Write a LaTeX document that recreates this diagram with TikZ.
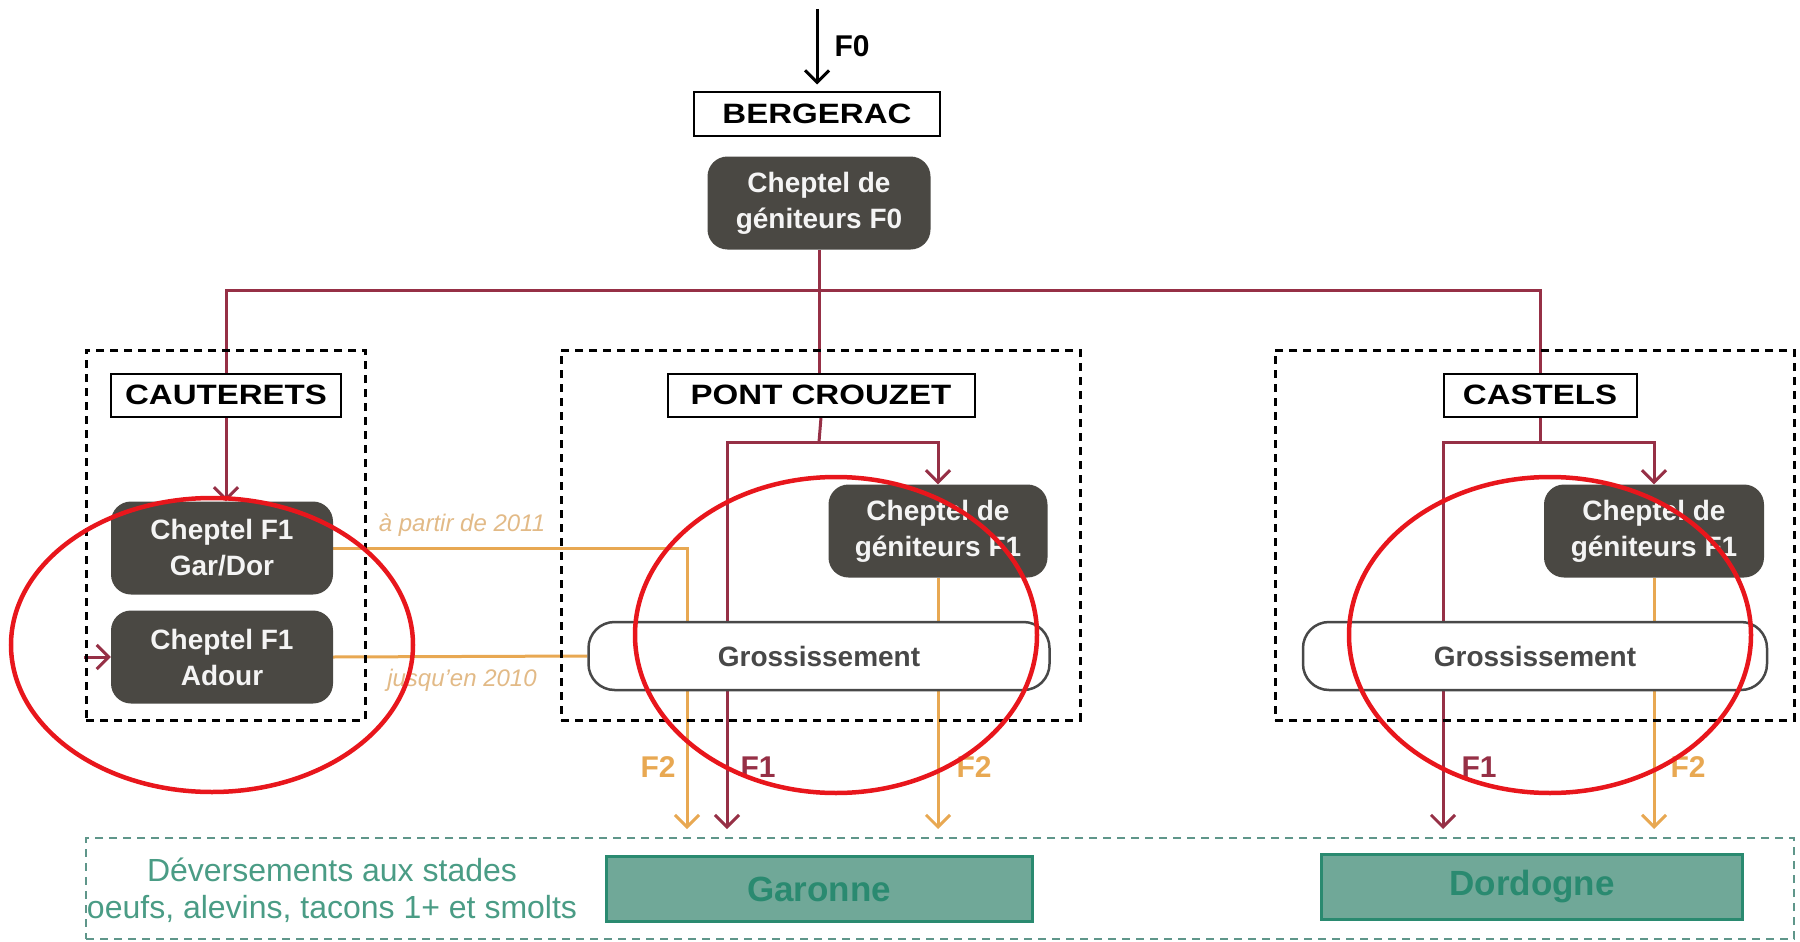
\documentclass[tikz,border=0pt]{standalone}
\usepackage{fontspec}
\setmainfont{Liberation Sans}
\newfontfamily\sitefont[FakeStretch=1.18]{Liberation Sans}
\usepackage{xcolor}
\definecolor{brdark}{RGB}{74,72,67}
\definecolor{brmaroon}{RGB}{150,48,70}
\definecolor{brorange}{RGB}{232,168,82}
\definecolor{brtan}{RGB}{226,186,135}
\definecolor{brteal}{RGB}{42,138,112}
\definecolor{brtealfill}{RGB}{112,168,152}
\definecolor{brtealline}{RGB}{95,150,138}
\definecolor{brgray}{RGB}{72,72,72}
\definecolor{brred}{RGB}{232,22,28}
\usetikzlibrary{arrows.meta,positioning,backgrounds}

\begin{document}
\begin{tikzpicture}[x=1pt,y=-1pt,
  site/.style={rectangle, draw=black, line width=2pt, fill=white,
               font=\sitefont\fontsize{28}{32}\selectfont\bfseries,
               minimum height=43pt, inner sep=0pt},
  stock/.style={rectangle, rounded corners=20pt, fill=brdark, text=white!94!brdark,
                font=\fontsize{28}{36}\selectfont\bfseries, align=center,
                minimum width=222pt, minimum height=93pt, inner sep=0pt},
  growbox/.style={rectangle, rounded corners=26pt, draw=brgray, line width=2.5pt, fill=white,
               text=brgray, font=\fontsize{28}{32}\selectfont\bfseries, minimum height=68pt},
  zone/.style={rectangle, draw=black, line width=3pt, dash pattern=on 8pt off 6pt, inner sep=0pt},
  release/.style={rectangle, draw=brtealline, line width=2.5pt, dash pattern=on 8pt off 6pt, inner sep=0pt},
  river/.style={rectangle, draw=brteal, line width=3pt, fill=brtealfill, text=brteal,
                font=\fontsize{35}{40}\selectfont\bfseries, minimum height=65pt},
  datelbl/.style={font=\fontsize{24}{28}\selectfont\itshape, text=brtan},
  genlbl/.style={font=\fontsize{30}{34}\selectfont\bfseries},
  feed/.style={line width=3pt, draw=brmaroon},
  flow/.style={feed, -{Straight Barb[length=12pt,width=24pt,line width=3pt]}},
  young/.style={line width=3pt, draw=brorange},
  youngflow/.style={young, -{Straight Barb[length=12pt,width=24pt,line width=3pt]}},
  ring/.style={draw=brred, line width=4.5pt}
]
\useasboundingbox (0,0) rectangle (1800,942);

% sites
\node[zone, minimum width=279pt, minimum height=370pt] (cautzone) at (225.5,535) {};
\node[zone, minimum width=519pt, minimum height=370pt] (pczone) at (820.5,535) {};
\node[zone, minimum width=519pt, minimum height=370pt] (castzone) at (1534.5,535) {};
\node[release, minimum width=1708pt, minimum height=101pt] (releasezone) at (940,888.5) {};

\node[site, minimum width=246pt] (berg) at (817,114) {BERGERAC};
\node[stock, minimum width=223pt] (cfzero) at (819,203) {Cheptel de\\géniteurs F0};

\node[site, minimum width=230pt] (caut) at (226,395) {CAUTERETS};
\node[stock] (gardor) at (222,548) {Cheptel F1\\Gar/Dor};
\node[stock] (adour) at (222,657) {Cheptel F1\\Adour};

\node[site, minimum width=307pt] (pc) at (821,395) {PONT CROUZET};
\node[stock, minimum width=219pt] (pcstock) at (938,531) {Cheptel de\\géniteurs F1};
\node[growbox, minimum width=461pt] (pcgrow) at (819,656) {Grossissement};

\node[site, minimum width=193pt] (cast) at (1540,395) {CASTELS};
\node[stock, minimum width=220pt] (caststock) at (1654,531) {Cheptel de\\géniteurs F1};
\node[growbox, minimum width=464pt] (castgrow) at (1535,656) {Grossissement};

% releases
\node[font=\fontsize{32}{37}\selectfont, text=brteal!85!white, align=center] (stages) at (332,890)
  {Déversements aux stades\\oeufs, alevins, tacons 1+ et smolts};
\node[river, minimum width=426pt] (garonne) at (819,889) {Garonne};
\node[river, minimum width=421pt] (dordogne) at (1532,887) {Dordogne};

\coordinate (fzero) at (817,9);
\coordinate (split) at (819,290);
\coordinate (pcsplit) at (819,442);
\coordinate (castsplit) at (1540,442);
\coordinate (adourin) at (84,657);
\coordinate (pcnew) at (687,829);
\coordinate (pcleft) at (727,829);
\coordinate (pcright) at (939,829);
\coordinate (castleft) at (1443,829);
\coordinate (castright) at (1653,829);

% flows
\begin{scope}[on background layer]
\draw[line width=3pt, -{Straight Barb[length=12pt,width=24pt,line width=3pt]}, shorten >=7pt]
  (fzero) -- (berg.north);
\draw[feed] (cfzero.south) -- (cfzero.south |- pc.north);
\draw[feed] (caut.north) |- (split) -| (cast.north);
\draw[flow] (caut.south) -- (caut.south |- gardor.north);
\draw[flow] (adourin) -- (adour.west);
\draw[feed] (pc.south) -- (pcsplit);
\draw[flow] (pcsplit) -| (pcstock.north);
\draw[flow] (pcsplit) -| (pcleft);
\draw[feed] (cast.south) -- (castsplit);
\draw[flow] (castsplit) -| (caststock.north);
\draw[flow] (castsplit) -| (castleft);
\draw[youngflow] (gardor.east) -| (pcnew);
\draw[young] (adour.east) -- (pcgrow.west);
\draw[youngflow] (pcstock.south) -- (pcstock.south |- pcright);
\draw[youngflow] (caststock.south) -- (caststock.south |- castright);
\end{scope}

\node[genlbl] (fzerolbl) at (852,46) {F0};
\node[datelbl] (from2011) at (462,525) {à partir de 2011};
\node[datelbl] (until2010) at (462,680) {jusqu'en 2010};
\node[genlbl, text=brorange] (pcftwoa) at (658,767) {F2};
\node[genlbl, text=brmaroon] (pcfone) at (758,767) {F1};
\node[genlbl, text=brorange] (pcftwob) at (974,767) {F2};
\node[genlbl, text=brmaroon] (castfone) at (1479,767) {F1};
\node[genlbl, text=brorange] (castftwo) at (1688,767) {F2};

% highlights
\draw[ring] (212,645) ellipse [x radius=201pt, y radius=147pt];
\draw[ring] (836,635) ellipse [x radius=201pt, y radius=158pt];
\draw[ring] (1550,635) ellipse [x radius=201pt, y radius=158pt];
\end{tikzpicture}
\end{document}
